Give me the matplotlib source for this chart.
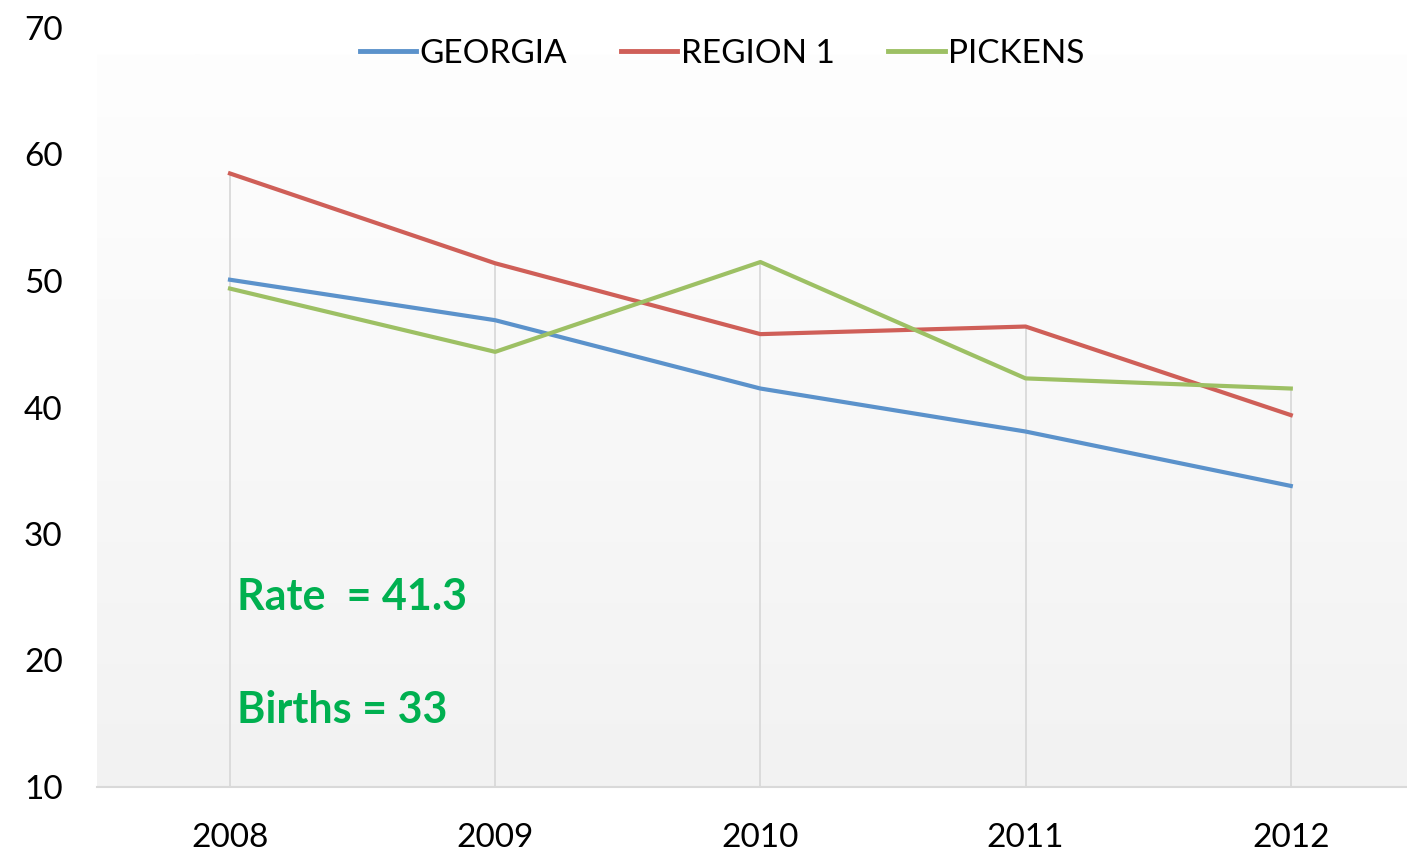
import matplotlib.pyplot as plt
import numpy as np

years = ["2008", "2009", "2010", "2011", "2012"]
georgia = [50.1, 46.9, 41.5, 38.1, 33.8]
region1 = [58.5, 51.4, 45.8, 46.4, 39.4]
pickens = [49.4, 44.4, 51.5, 42.3, 41.5]
yticks = [10, 20, 30, 40, 50, 60, 70]

plt.rcParams['font.family'] = ['Lato', 'DejaVu Sans']

fig = plt.figure(figsize=(14.07, 8.56), dpi=100)
ax = fig.add_axes([97.4 / 1407, 69 / 856, 1326 / 1407, 759 / 856])
x = np.arange(len(years))

# gradient plot-area fill
grad = np.linspace(0, 1, 256).reshape(-1, 1)
ax.imshow(grad, cmap=plt.matplotlib.colors.LinearSegmentedColormap.from_list(
    "g", ["#fefefe", "#f2f2f2"]), aspect="auto",
    extent=[-0.5, 4.5, 10, 67.9], origin="upper", zorder=0)

# drop lines
tops = np.max([georgia, region1, pickens], axis=0)
ax.vlines(x, 10, tops, color="#d9d9d9", lw=1.3, zorder=1)

ax.plot(x, georgia, color="#5b92cb", lw=3, label="GEORGIA", zorder=3)
ax.plot(x, region1, color="#cf5f58", lw=3, label="REGION 1", zorder=3)
ax.plot(x, pickens, color="#9dc064", lw=3, label="PICKENS", zorder=3)

ax.set_xlim(-0.5, 4.5)
ax.set_ylim(10, 70)
ax.set_xticks(x)
ax.set_xticklabels(years)
ax.set_yticks(yticks)
ax.tick_params(axis="both", length=0, labelsize=24)
ax.tick_params(axis="y", pad=25)
ax.tick_params(axis="x", pad=26)
for s in ["top", "right", "left"]:
    ax.spines[s].set_visible(False)
ax.spines["bottom"].set_color("#d9d9d9")
ax.spines["bottom"].set_linewidth(1.5)

leg = ax.legend(loc="center", bbox_to_anchor=(0.471, 0.966), ncol=3, frameon=False,
                fontsize=24, handlelength=1.7, handletextpad=0.1, columnspacing=1.6)
for ln in leg.get_lines():
    ln.set_linewidth(3.5)

ax.text(0.028, 25.0, "Rate  = 41.3", color="#00b050", fontsize=31, fontweight="bold",
        va="center", ha="left")
ax.text(0.028, 16.1, "Births = 33", color="#00b050", fontsize=31, fontweight="bold",
        va="center", ha="left")

fig.savefig("out.png", dpi=100)
